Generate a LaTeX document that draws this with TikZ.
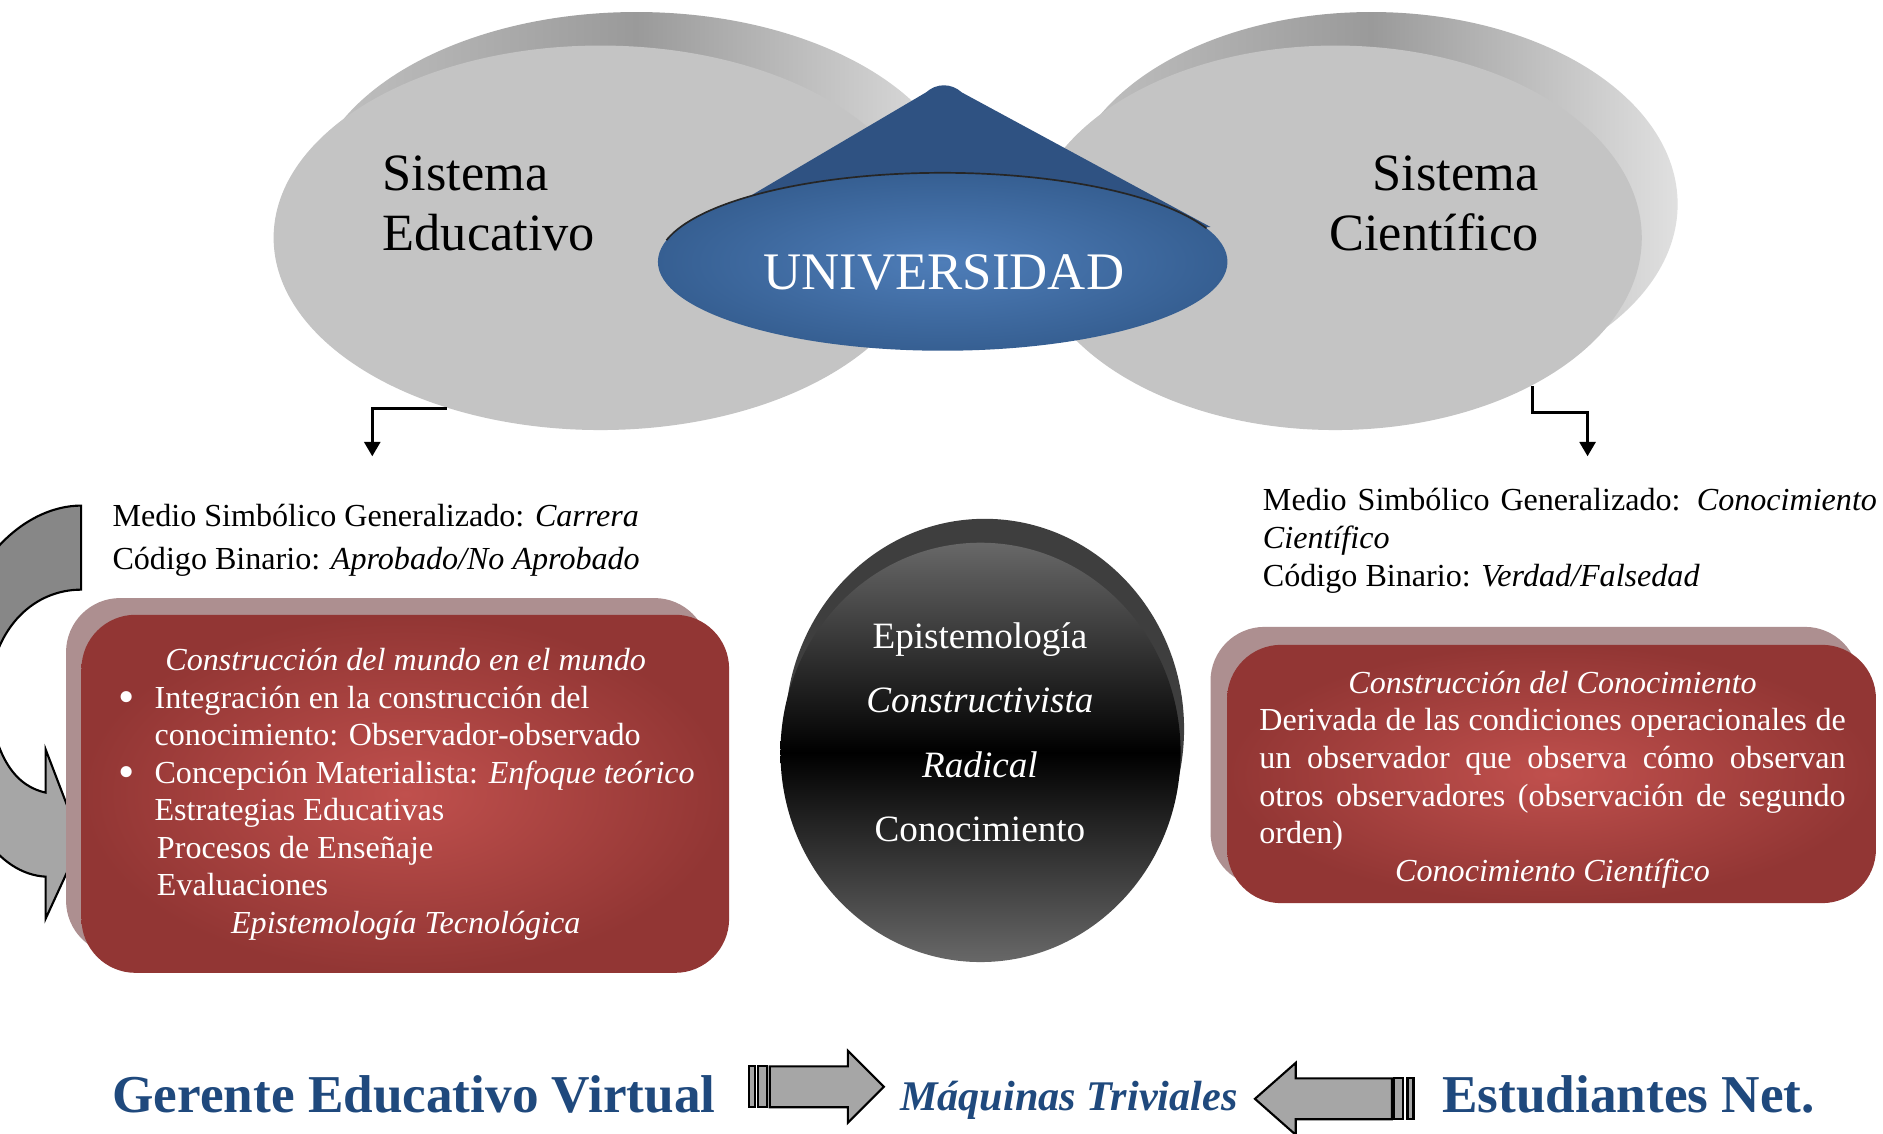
\documentclass[tikz,border=0pt]{standalone}
\usepackage{fontspec}
\setmainfont{Liberation Serif}
\usetikzlibrary{shapes.geometric,arrows.meta}
\setlength{\parindent}{0pt}
\definecolor{discfront}{HTML}{C4C4C4}
\definecolor{discrim}{HTML}{9A9A9A}
\definecolor{rimleft}{HTML}{C2C2C2}
\definecolor{rimright}{HTML}{E0E0E0}
\definecolor{conedark}{HTML}{2F5282}
\definecolor{coneinner}{HTML}{4E7DB8}
\definecolor{coneouter}{HTML}{365F92}
\definecolor{circgray}{HTML}{686868}
\definecolor{circback}{HTML}{3E3E3E}
\definecolor{boxinner}{HTML}{C0504D}
\definecolor{boxouter}{HTML}{923634}
\definecolor{boxshadow}{HTML}{AD8F90}
\definecolor{netblue}{HTML}{1F497D}
\definecolor{arrowgray}{HTML}{A6A6A6}
\definecolor{curvedark}{HTML}{878787}

\begin{document}
\begin{tikzpicture}[x=0.01cm,y=-0.01cm,
	disc/.style={ellipse,fill=discfront,minimum width=#1,minimum height=3.2cm,inner sep=0pt},
	rim/.style={left color=rimleft,right color=rimright,middle color=discrim},
	sistema/.style={font=\fontsize{12.4}{14.2}\selectfont,inner sep=0pt},
	medio/.style={font=\fontsize{7.6}{10.2}\selectfont,inner sep=0pt},
	boxtext/.style={font=\fontsize{7.6}{8.9}\selectfont,text=white,inner sep=0pt},
	redbox/.style={rectangle,rounded corners=0.45cm,inner color=boxinner,outer color=boxouter,inner sep=0pt},
	elbow/.style={line width=0.8pt,-{Triangle[length=3.4pt,width=3.7pt]}},
	blockarrow/.style={fill=arrowgray,draw=black,line width=0.5pt},
	netlabel/.style={font=\fontsize{12.6}{14}\selectfont\bfseries,text=netblue,inner sep=0pt}]
	\useasboundingbox[fill=white] (0,0) rectangle (1568,944);

	\shade[rim] (530,170) ellipse[x radius=272,y radius=160];
	\shade[rim] (1142,170) ellipse[x radius=255,y radius=160];
	\node[disc=5.44cm] (edu) at (500,198) {};
	\node[disc=5.10cm] (cien) at (1112,198) {};
	\node[sistema,align=left,anchor=north west] (edutxt) at (318,129) {Sistema\\Educativo};
	\node[sistema,align=right,anchor=north east] (cientxt) at (1282,129) {Sistema\\Científico};

	\fill[conedark] (552,206) -- (771,77) .. controls (780,69) and (792,69) .. (801,77) -- (1008,189) -- cycle;
	\node[ellipse,minimum width=4.74cm,minimum height=1.48cm,inner color=coneinner,outer color=coneouter,inner sep=0pt] (uni) at (785,218) {};
	\draw[black!85,line width=0.4pt] (555,200) arc[start angle=194,end angle=338,x radius=237,y radius=74];
	\node[font=\fontsize{12.5}{13}\selectfont,text=white,inner sep=0pt,anchor=base] (unitxt) at (786,241) {UNIVERSIDAD};

	\coordinate (edutip) at (310,380);
	\coordinate (cientip) at (1322,380);
	\draw[elbow] (edu.228.6) -| (edutip);
	\draw[elbow] (cien.323) -- ++(0,22) -| (cientip);

	\node[medio,align=left,anchor=north west] (edumedio) at (93,419) {Medio Simbólico Generalizado: \textit{Carrera}\\Código Binario: \textit{Aprobado/No Aprobado}};
	\node[medio,font=\fontsize{7.6}{9}\selectfont,text width=5.11cm,align=justify,anchor=north west] (cienmedio) at (1051,406) {Medio Simbólico Generalizado: \textit{Conocimiento}\linebreak \textit{Científico}\\Código Binario: \textit{Verdad/Falsedad}};

	\fill[curvedark,draw=black,line width=0.5pt] (67.5,421) .. controls (20,421) and (-40,470) .. (-45,577) -- (-10,577) .. controls (-5,520) and (30,491) .. (67.5,491) -- cycle;
	\fill[arrowgray,draw=black,line width=0.5pt] (-45,577) .. controls (-40,684) and (0,728) .. (38,730) -- (38,765) -- (67.5,701) -- (38,624) -- (38,660) .. controls (15,655) and (-5,634) .. (-10,577) -- cycle;

	\fill[boxshadow,rounded corners=0.45cm] (55,498) rectangle (590,795);
	\node[redbox,minimum width=5.39cm,minimum height=2.98cm] (mundobox) at (337.5,661) {};
	\node[boxtext,align=left,anchor=north west] (mundotxt) at (98,539) {%
		\makebox[4.78cm]{\itshape Construcción del mundo en el mundo}\\
		\makebox[0.3cm][l]{\raisebox{-1.1pt}{\fontsize{11}{8.9}\selectfont\textbullet}}Integración en la construcción del\\
		\hspace*{0.3cm}conocimiento: Observador-observado\\
		\makebox[0.3cm][l]{\raisebox{-1.1pt}{\fontsize{11}{8.9}\selectfont\textbullet}}Concepción Materialista: \textit{Enfoque teórico}\\
		\hspace*{0.3cm}Estrategias Educativas\\
		\hspace*{0.32cm}Procesos de Enseñaje\\
		\hspace*{0.32cm}Evaluaciones\\
		\makebox[4.78cm]{\itshape Epistemología Tecnológica}};

	\fill[boxshadow,rounded corners=0.45cm] (1008,522) rectangle (1548,738);
	\node[redbox,minimum width=5.40cm,minimum height=2.15cm] (conocbox) at (1292,644.5) {};
	\node[boxtext,text width=4.88cm,align=justify,anchor=north west] (conoctxt) at (1048,558) {%
		{\centering\itshape Construcción del Conocimiento\par}
		\tolerance=9999 Derivada de las condiciones operacionales de\linebreak un observador que observa cómo observan\linebreak otros observadores (observación de segundo\linebreak orden)\par
		{\centering\itshape Conocimiento Científico\par}};

	\fill[circback] (820,607) ellipse[x radius=166,y radius=175];
	\node[ellipse,minimum width=3.33cm,minimum height=3.49cm,top color=circgray,bottom color=circgray,middle color=black,inner sep=0pt] (episte) at (816.5,626.5) {};
	\node[font=\fontsize{8.8}{15.2}\selectfont,text=white,align=center,inner sep=0pt,anchor=north] (epistetxt) at (816,518) {Epistemología\\\textit{Constructivista}\\\textit{Radical}\\Conocimiento};

	\node[netlabel,anchor=base west] (gerente) at (93,926) {Gerente Educativo Virtual};
	\node[netlabel,anchor=base east] (net) at (1512,926) {Estudiantes Net.};
	\node[font=\fontsize{10}{12}\selectfont\bfseries\itshape,text=netblue,inner sep=0pt,anchor=base] (maquinas) at (890,925) {Máquinas Triviales};

	\draw[blockarrow] (624,888) rectangle (629,922);
	\draw[blockarrow] (631,888) rectangle (639,922);
	\draw[blockarrow] (641,888) -- (706,888) -- (706,875) -- (736,905) -- (706,935) -- (706,922) -- (641,922) -- cycle;
	\draw[blockarrow] (1172,898) rectangle (1177,932);
	\draw[blockarrow] (1161,898) rectangle (1168,932);
	\draw[blockarrow] (1159,898) -- (1079,898) -- (1079,885) -- (1045,915) -- (1079,945) -- (1079,932) -- (1159,932) -- cycle;
\end{tikzpicture}
\end{document}
